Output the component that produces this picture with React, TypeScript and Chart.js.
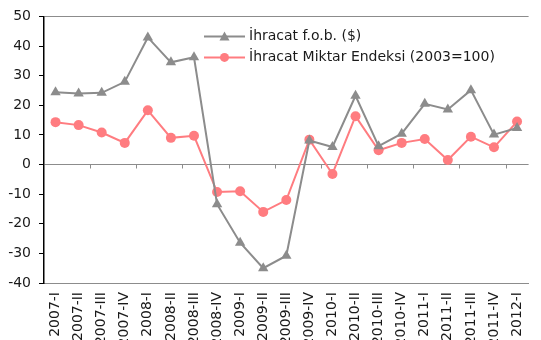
import React, { useEffect, useRef } from "react";
import { Chart, registerables } from "chart.js";

Chart.register(...registerables);

const categories = [
  "2007-I", "2007-II", "2007-III", "2007-IV",
  "2008-I", "2008-II", "2008-III", "2008-IV",
  "2009-I", "2009-II", "2009-III", "2009-IV",
  "2010-I", "2010-II", "2010-III", "2010-IV",
  "2011-I", "2011-II", "2011-III", "2011-IV",
  "2012-I",
];

const exportFob = [
  24.4, 24.0, 24.2, 27.9, 42.9, 34.5, 36.2, -13.4, -26.4, -35.0, -30.8,
  8.1, 5.9, 23.2, 6.2, 10.4, 20.5, 18.6, 25.1, 10.1, 12.3,
];

const exportVolumeIndex = [
  14.3, 13.3, 10.8, 7.3, 18.3, 9.0, 9.7, -9.3, -9.0, -16.0, -12.0,
  8.4, -3.2, 16.3, 4.8, 7.3, 8.6, 1.5, 9.4, 5.8, 14.5,
];

const seriesLabels = ["İhracat f.o.b. ($)", "İhracat Miktar Endeksi (2003=100)"];

const yTicks = [-40, -30, -20, -10, 0, 10, 20, 30, 40, 50];

const GRAY = "#8c8c8c";
const RED = "#ff7c80";
const TEXT = "#1a1a1a";
const FONT = "'DejaVu Sans', sans-serif";

const zeroTicksPlugin = {
  id: "zeroTicks",
  afterDatasetsDraw(chart: any) {
    const x = chart.scales.x;
    const y = chart.scales.y;
    const ctx = chart.ctx;
    const y0 = y.getPixelForValue(0);
    const n = x.ticks.length;
    const step = n > 1 ? x.getPixelForTick(1) - x.getPixelForTick(0) : 0;
    ctx.save();
    ctx.strokeStyle = GRAY;
    ctx.lineWidth = 1;
    ctx.beginPath();
    for (let k = 2; k <= n - 1; k += 2) {
      const px = Math.round(x.getPixelForTick(k) - step / 2) + 0.5;
      ctx.moveTo(px, y0);
      ctx.lineTo(px, y0 + 4);
    }
    ctx.stroke();
    ctx.restore();
  },
};

const innerLegendPlugin = {
  id: "innerLegend",
  afterDraw(chart: any) {
    const ctx = chart.ctx;
    const area = chart.chartArea;
    const startX = area.left + 160;
    const rows = [area.top + 20, area.top + 41];
    ctx.save();
    chart.data.datasets.forEach((ds: any, i: number) => {
      const yy = rows[i];
      ctx.strokeStyle = ds.borderColor;
      ctx.lineWidth = 2;
      ctx.beginPath();
      ctx.moveTo(startX, yy);
      ctx.lineTo(startX + 41, yy);
      ctx.stroke();
      ctx.fillStyle = ds.backgroundColor;
      const cx = startX + 20.5;
      if (ds.pointStyle === "triangle") {
        const r = 5;
        ctx.beginPath();
        ctx.moveTo(cx, yy - r);
        ctx.lineTo(cx + r, yy + r * 0.8);
        ctx.lineTo(cx - r, yy + r * 0.8);
        ctx.closePath();
        ctx.fill();
      } else {
        ctx.beginPath();
        ctx.arc(cx, yy, 4.5, 0, Math.PI * 2);
        ctx.fill();
      }
      ctx.fillStyle = TEXT;
      ctx.font = `14px ${FONT}`;
      ctx.textBaseline = "middle";
      ctx.textAlign = "left";
      ctx.fillText(ds.label, startX + 45, yy);
    });
    ctx.restore();
  },
};

export default function App() {
  const canvasRef = useRef<HTMLCanvasElement | null>(null);

  useEffect(() => {
    document.body.style.margin = "0";
    const canvas = canvasRef.current;
    if (!canvas) return;
    const chart = new Chart(canvas, {
      type: "line",
      data: {
        labels: categories,
        datasets: [
          {
            label: seriesLabels[0],
            data: exportFob,
            borderColor: GRAY,
            backgroundColor: GRAY,
            borderWidth: 2,
            pointStyle: "triangle",
            pointRadius: 6,
            pointBorderWidth: 0,
            tension: 0,
          },
          {
            label: seriesLabels[1],
            data: exportVolumeIndex,
            borderColor: RED,
            backgroundColor: RED,
            borderWidth: 2,
            pointStyle: "circle",
            pointRadius: 5,
            pointBorderWidth: 0,
            tension: 0,
          },
        ],
      },
      options: {
        responsive: false,
        animation: false,
        devicePixelRatio: 1,
        layout: { padding: { top: 15, right: 0, left: 0, bottom: 0 } },
        plugins: {
          legend: { display: false },
          tooltip: { enabled: false },
        },
        scales: {
          x: {
            offset: true,
            grid: { display: false, drawTicks: false },
            border: { display: true, color: GRAY, width: 1 },
            ticks: {
              autoSkip: false,
              minRotation: 90,
              maxRotation: 90,
              padding: 9,
              color: TEXT,
              font: { family: FONT, size: 14 },
            },
            afterFit(scale: any) {
              scale.height = 57;
            },
          },
          y: {
            min: -40,
            max: 50,
            afterBuildTicks(scale: any) {
              scale.ticks = yTicks.map((v) => ({ value: v }));
            },
            grid: {
              color: (c: any) =>
                c.tick && (c.tick.value === 50 || c.tick.value === 0 || c.tick.value === -40)
                  ? GRAY
                  : "rgba(0,0,0,0)",
              tickColor: "#000",
              tickLength: 5,
              lineWidth: 1,
            },
            border: { display: true, color: "#000", width: 1.5 },
            ticks: {
              padding: 8,
              color: TEXT,
              font: { family: FONT, size: 14 },
            },
            afterFit(scale: any) {
              scale.width = 44;
            },
          },
        },
      },
      plugins: [zeroTicksPlugin, innerLegendPlugin],
    });
    return () => chart.destroy();
  }, []);

  return (
    <div style={{ width: 541, height: 340, overflow: "hidden" }}>
      <canvas ref={canvasRef} width={543} height={340} style={{ display: "block" }} />
    </div>
  );
}
